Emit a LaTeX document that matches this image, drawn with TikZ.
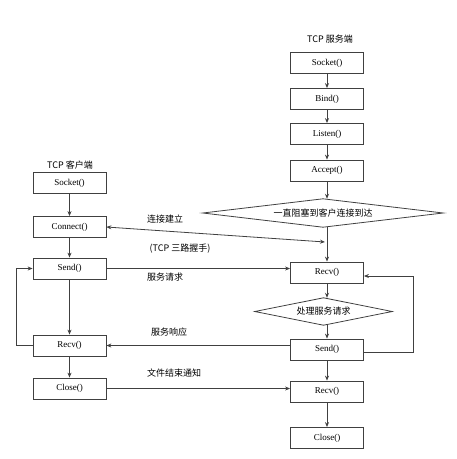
\documentclass[tikz,border=0pt]{standalone}
\usepackage{fontspec}
\setmainfont{Liberation Serif}
\newfontfamily\cjk{Noto Sans CJK SC}
\usetikzlibrary{arrows.meta}
\definecolor{ln}{HTML}{404040}
\tikzset{
  box/.style={draw=ln,line width=0.8pt,minimum width=73pt,minimum height=21pt,inner sep=0pt,font=\fontsize{9}{10}\selectfont},
  dianode/.style={inner sep=0pt,font=\cjk\fontsize{9}{10}\selectfont},
  dout/.style={draw=ln,line width=0.8pt,line join=miter},
  lbl/.style={font=\cjk\fontsize{9}{10}\selectfont,inner sep=0pt},
  arr/.style={draw=ln,line width=0.8pt,-{Stealth[length=5pt,width=4pt]}},
  darr/.style={draw=ln,line width=0.8pt,{Stealth[length=5pt,width=4pt]}-{Stealth[length=5pt,width=4pt]}}
}
\begin{document}
\begin{tikzpicture}[x=1pt,y=-1pt]
\useasboundingbox (0,0) rectangle (457,459);
% titles
\node[lbl] (st) at (330,39) {TCP 服务端};
\node[lbl] (ct) at (70,165) {TCP 客户端};
% client
\node[box] (csock) at (69.5,183) {Socket()};
\node[box] (cconn) at (69.5,227) {Connect()};
\node[box] (csend) at (69.5,268.5) {Send()};
\node[box] (crecv) at (69.5,345.5) {Recv()};
\node[box] (cclose) at (69.5,388.5) {Close()};
% server
\node[box] (ssock) at (327,63) {Socket()};
\node[box] (sbind) at (327,99) {Bind()};
\node[box] (slist) at (327,134) {Listen()};
\node[box] (sacc) at (327,170.5) {Accept()};
\node[dianode,minimum width=240pt,minimum height=28pt] (sblock) at (323,213) {一直阻塞到客户连接到达};
\draw[dout] (sblock.west) -- (sblock.north) -- (sblock.east) -- (sblock.south) -- cycle;
\node[box] (srecv) at (327,272.5) {Recv()};
\node[dianode,minimum width=137pt,minimum height=27pt] (sproc) at (323.5,311.5) {处理服务请求};
\draw[dout] (sproc.west) -- (sproc.north) -- (sproc.east) -- (sproc.south) -- cycle;
\node[box] (ssend) at (327,349.5) {Send()};
\node[box] (srecv2) at (327,391.5) {Recv()};
\node[box] (sclose) at (327,438) {Close()};
% client vertical
\draw[arr] (csock) -- (cconn);
\draw[arr] (cconn) -- (csend);
\draw[arr] (csend) -- (crecv);
\draw[arr] (crecv) -- (cclose);
% server vertical
\draw[arr] (ssock) -- (sbind);
\draw[arr] (sbind) -- (slist);
\draw[arr] (slist) -- (sacc);
\draw[arr] (sacc.south) -- (sacc.south |- sblock.north);
\draw[arr] (srecv.north |- sblock.south) -- (srecv.north);
\draw[arr] (srecv.south) -- (srecv.south |- sproc.north);
\draw[arr] (ssend.north |- sproc.south) -- (ssend.north);
\draw[arr] (ssend) -- (srecv2);
\draw[arr] (srecv2) -- (sclose);
% loops
\draw[arr] (crecv.west) -- ++(-16,0) |- (csend.west);
\draw[arr] ([yshift=-3pt]ssend.east) -- ++(49,0) |- ([yshift=-3.5pt]srecv.east);
% cross connections
\coordinate (hs) at (325,242);
\draw[darr] (cconn.east) -- (hs);
\draw[arr] (csend.east) -- (csend.east -| srecv.west);
\draw[arr] (ssend.west |- crecv.east) -- (crecv.east);
\draw[arr] (cclose.east) -- (cclose.east -| srecv2.west);
% labels
\node[lbl] (l1) at (165,219) {连接建立};
\node[lbl] (l2) at (180,249) {(TCP 三路握手)};
\node[lbl] (l3) at (165,277) {服务请求};
\node[lbl] (l4) at (169,332) {服务响应};
\node[lbl] (l5) at (174,373) {文件结束通知};
\end{tikzpicture}
\end{document}
